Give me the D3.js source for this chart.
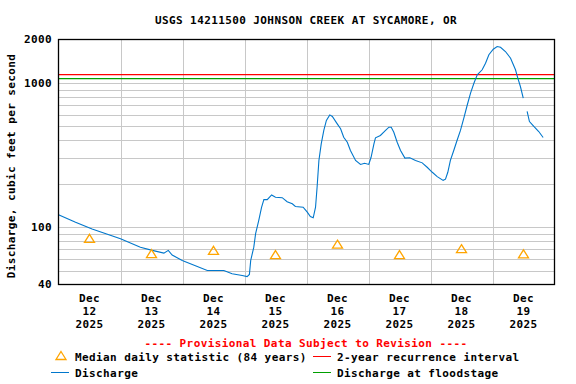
<!DOCTYPE html>
<html>
<head>
<meta charset="utf-8">
<script src="https://cdn.jsdelivr.net/npm/d3@7"></script>
<style>
body{margin:0;background:#fff}
text{font-family:"DejaVu Sans Mono",monospace;font-weight:bold;font-size:11px;letter-spacing:0.4px}
</style>
</head>
<body>
<svg id="chart" width="576" height="384"></svg>
<script>
const title="USGS 14211500 JOHNSON CREEK AT SYCAMORE, OR";
const yLabel="Discharge, cubic feet per second";
const days=["12","13","14","15","16","17","18","19"];
const yTicks=[40,100,1000,2000];
// hours since Dec 12 2025 00:00, null value = gap in record
const dischargeHours=[0,6.6,13,24,31.7,36.3,40.8,42.5,44,47.9,53,57.6,64,67.2,71.1,73,73.9,74.4,75.6,76.3,77.5,78.6,79.5,80.8,82.5,84,86.6,88.5,90.5,91.7,94.7,96.3,97.5,98.6,99.5,100.1,100.8,101.7,102.7,103.7,105,106,107.9,109.2,110.4,111.8,113,115,116.9,118.5,120.1,121,122.1,122.7,124.6,126.6,127.9,128.8,129.8,131.1,132.4,134.1,136,138.2,140.8,142.7,144.7,146.6,148.9,149.8,150.7,151.7,153,154.3,155.6,156.9,158.2,159.5,160.8,162.1,164,165.3,166.6,168.3,169.8,171.1,173,175,176.9,177.8,178.8,179.9,180.6,181.4,182.3,184,185.9,187.6];
const dischargeValues=[122,108,97,83,72.6,69,66,69,64,58.7,54,50,50,47.5,46.2,45.4,47,58.7,72.6,90,111,137,155,155,167,161,160,150,145,139,137.5,127,118.5,116,137.5,189,290,378,468,549,600,585,520,481,420,388,340,290,272,277,272,305,378,416,432,468,493,493,455,388,340,301,303,290,279,260,240,224,211,215,240,290,340,400,468,570,700,849,995,1138,1233,1370,1567,1713,1788,1768,1651,1484,1233,1078,944,784,null,634,540,499,460,418];
const medianValues=[83,65,68.5,64,75.5,64,70.3,64.8];
const recurrence2yr=1140;
const floodstage=1070;

const svg=d3.select("#chart");
svg.append("rect").attr("width",576).attr("height",384).attr("fill","#fff");

const start=new Date(2025,11,12,0,0);
const end=new Date(2025,11,20,0,0);
const x=d3.scaleTime().domain([start,end]).range([58.5,554.5]);
const y=d3.scaleLog().domain([40,2000]).range([284.5,39.5]);
const atHour=h=>new Date(start.getTime()+h*3600e3);

// grid
const gridVals=[];
[10,100,1000].forEach(m=>{for(let k=1;k<10;k++){const v=k*m;if(v>40&&v<2000)gridVals.push(v);}});
svg.append("g").selectAll("line").data(gridVals).join("line")
  .attr("x1",x.range()[0]).attr("x2",x.range()[1])
  .attr("y1",d=>Math.round(y(d))+0.5).attr("y2",d=>Math.round(y(d))+0.5)
  .attr("stroke","#c8c8c8").attr("stroke-width",1);
const midnights=d3.timeDay.range(d3.timeDay.offset(start,1),end);
svg.append("g").selectAll("line").data(midnights).join("line")
  .attr("x1",d=>Math.round(x(d))+0.5).attr("x2",d=>Math.round(x(d))+0.5)
  .attr("y1",y.range()[1]).attr("y2",y.range()[0])
  .attr("stroke","#c8c8c8").attr("stroke-width",1);

// reference lines
svg.append("line").attr("x1",x.range()[0]).attr("x2",x.range()[1])
  .attr("y1",y(recurrence2yr)).attr("y2",y(recurrence2yr)).attr("stroke","#ff0000").attr("stroke-width",1.3);
svg.append("line").attr("x1",x.range()[0]).attr("x2",x.range()[1])
  .attr("y1",y(floodstage)).attr("y2",y(floodstage)).attr("stroke","#00a000").attr("stroke-width",1.3);

// discharge
const pts=dischargeHours.map((h,i)=>({t:atHour(h),v:dischargeValues[i]}));
svg.append("path").datum(pts)
  .attr("d",d3.line().defined(d=>d.v!=null).x(d=>x(d.t)).y(d=>y(d.v)))
  .attr("fill","none").attr("stroke","#0077cc").attr("stroke-width",1.1);

// median triangles
const tri="M0,-4.5L5,3.5L-5,3.5Z";
svg.append("g").selectAll("path").data(medianValues).join("path")
  .attr("transform",(d,i)=>`translate(${x(atHour(i*24+12))},${y(d)})`)
  .attr("d",tri).attr("fill","none").attr("stroke","#ffa500").attr("stroke-width",1.3);

// frame
svg.append("rect").attr("x",x.range()[0]).attr("y",y.range()[1])
  .attr("width",x.range()[1]-x.range()[0]).attr("height",y.range()[0]-y.range()[1])
  .attr("fill","none").attr("stroke","#000").attr("stroke-width",1.3);

// title
svg.append("text").attr("x",306).attr("y",24).attr("text-anchor","middle").text(title);

// y ticks
svg.append("g").selectAll("text").data(yTicks).join("text")
  .attr("x",52).attr("y",d=>y(d)).attr("dy","0.36em").attr("text-anchor","end").text(d=>d);
svg.append("text").attr("transform","translate(15,166) rotate(-90)")
  .attr("text-anchor","middle").text(yLabel);

// x labels
const xl=svg.append("g").selectAll("text").data(days).join("text")
  .attr("text-anchor","middle")
  .attr("transform",(d,i)=>`translate(${x(atHour(i*24+12))},0)`);
xl.append("tspan").attr("x",0).attr("y",302).text("Dec");
xl.append("tspan").attr("x",0).attr("y",315).text(d=>d);
xl.append("tspan").attr("x",0).attr("y",328).text("2025");

// provisional note
svg.append("text").attr("x",306).attr("y",347).attr("text-anchor","middle")
  .attr("fill","#ff0000").text("---- Provisional Data Subject to Revision ----");

// legend
const lg=svg.append("g");
lg.append("path").attr("d",tri).attr("transform","translate(61,356)")
  .attr("fill","none").attr("stroke","#ffa500").attr("stroke-width",1.3);
lg.append("text").attr("x",75).attr("y",360.5).text("Median daily statistic (84 years)");
lg.append("line").attr("x1",313).attr("x2",331).attr("y1",356.5).attr("y2",356.5).attr("stroke","#ff0000");
lg.append("text").attr("x",337).attr("y",360.5).text("2-year recurrence interval");
lg.append("line").attr("x1",51).attr("x2",69).attr("y1",372.5).attr("y2",372.5).attr("stroke","#0077cc");
lg.append("text").attr("x",75).attr("y",376.5).text("Discharge");
lg.append("line").attr("x1",313).attr("x2",331).attr("y1",372.5).attr("y2",372.5).attr("stroke","#00a000");
lg.append("text").attr("x",337).attr("y",376.5).text("Discharge at floodstage");
</script>
</body>
</html>
